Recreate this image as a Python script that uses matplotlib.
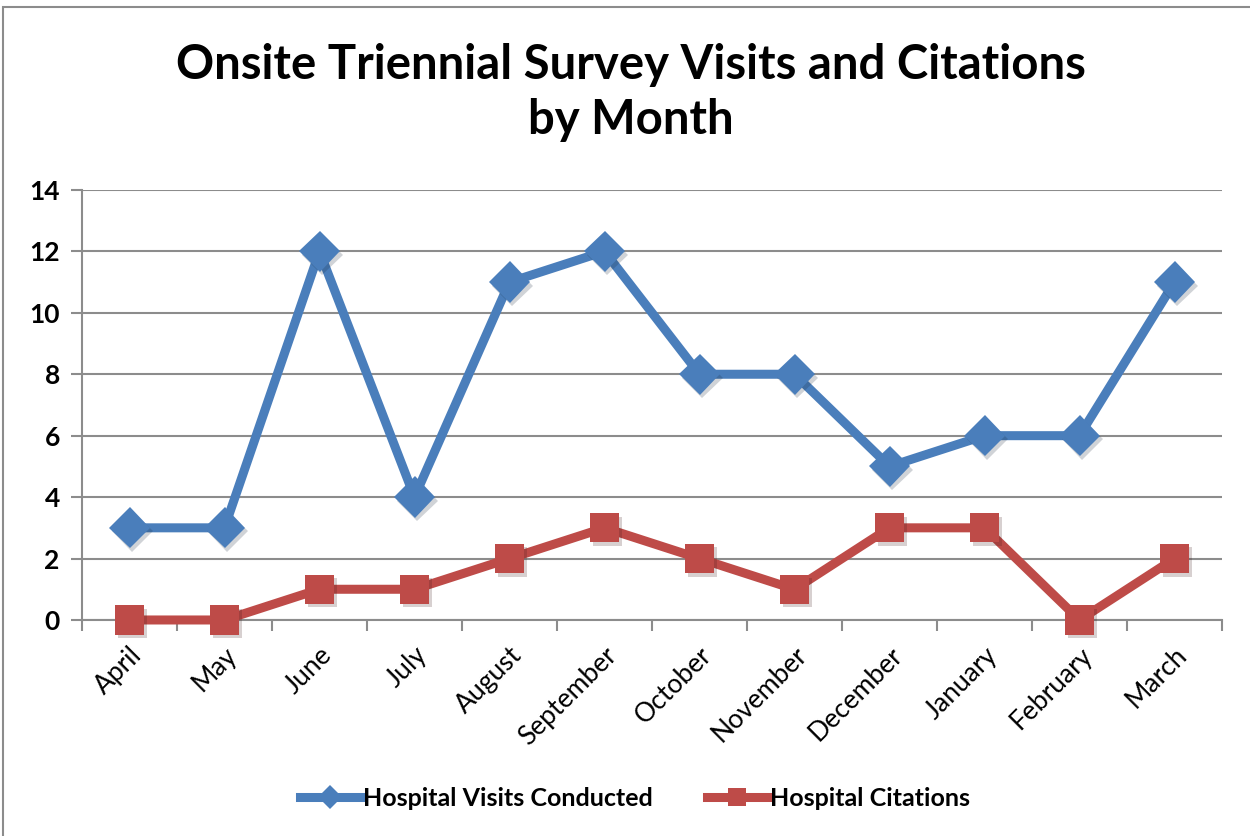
import matplotlib.pyplot as plt
import matplotlib.patheffects as pe
from matplotlib.lines import Line2D
from matplotlib.patches import Rectangle

months = ['April', 'May', 'June', 'July', 'August', 'September', 'October',
          'November', 'December', 'January', 'February', 'March']
visits = [3, 3, 12, 4, 11, 12, 8, 8, 5, 6, 6, 11]
citations = [0, 0, 1, 1, 2, 3, 2, 1, 3, 3, 0, 2]

blue = '#4A7EBB'
red = '#BE4B48'
grid_c = '#8C8C8C'

plt.rcParams['font.family'] = ['Lato', 'DejaVu Sans']

fig = plt.figure(figsize=(12.5, 8.36), dpi=100)
ax = fig.add_axes([0.0656, 0.2584, 0.912, 0.5144])

# chart frame (partly cut off on the right/bottom)
fig.patches.append(Rectangle((3 / 1250, -0.05), 1.2, 1 - 7 / 836 + 0.05,
                             transform=fig.transFigure, fill=False,
                             edgecolor='#8C8C8C', linewidth=1.5))

shadow = [pe.SimplePatchShadow(offset=(2, -2.5), alpha=0.2), pe.Normal()]
x = list(range(len(months)))

# lines first, then markers with a soft shadow
ax.plot(x, visits, color=blue, linewidth=6.5, zorder=4, clip_on=False)
ax.plot(x, citations, color=red, linewidth=6.5, zorder=3, clip_on=False)
ax.plot(x, visits, linestyle='none', marker='D', markersize=21, color=blue,
        markeredgewidth=0, zorder=5, path_effects=shadow, clip_on=False)
ax.plot(x, citations, linestyle='none', marker='s', markersize=21, color=red,
        markeredgewidth=0, zorder=3.5, path_effects=shadow, clip_on=False)

ax.set_xlim(-0.5, 11.5)
ax.set_ylim(0, 14)
ax.set_yticks(range(0, 15, 2))
ax.set_xticks(x)
ax.set_xticklabels(months, rotation=45, ha='right', rotation_mode='anchor',
                   fontsize=19)
ax.set_xticks([i - 0.5 for i in range(13)], minor=True)
ax.tick_params(axis='x', which='major', length=0, pad=16)
ax.tick_params(axis='x', which='minor', length=8, width=1.5, color=grid_c,
               direction='out')
ax.tick_params(axis='y', length=8, width=1.5, color=grid_c, pad=8,
               labelsize=19)
for lbl in ax.get_yticklabels():
    lbl.set_fontweight('bold')

ax.grid(axis='y', color=grid_c, linewidth=1.5)
ax.set_axisbelow(True)
for s in ['top', 'right']:
    ax.spines[s].set_visible(False)
for s in ['left', 'bottom']:
    ax.spines[s].set_color(grid_c)
    ax.spines[s].set_linewidth(1.5)

fig.text(0.505, 0.889, 'Onsite Triennial Survey Visits and Citations\nby Month',
         ha='center', va='center', fontsize=34, fontweight='bold',
         linespacing=1.3)

handles = [Line2D([], [], color=blue, linewidth=6.5, marker='D',
                  markersize=12, markeredgewidth=0),
           Line2D([], [], color=red, linewidth=6.5, marker='s',
                  markersize=13, markeredgewidth=0)]
ax.legend(handles, ['Hospital Visits Conducted', 'Hospital Citations'],
          loc='center', bbox_to_anchor=(0.485, -0.415), ncol=2,
          frameon=False, prop={'weight': 'bold', 'size': 18},
          handlelength=2.4, handletextpad=0.1, columnspacing=2.2)

fig.savefig('out.png', dpi=100)
